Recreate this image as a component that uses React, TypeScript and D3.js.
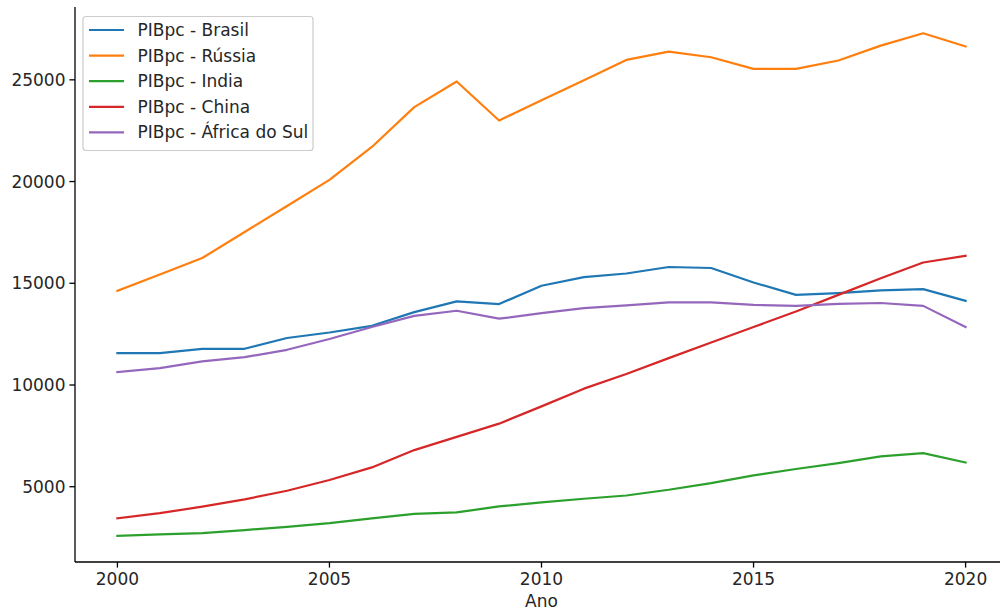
import React from "react";
import * as d3 from "d3";

const years = [2000, 2001, 2002, 2003, 2004, 2005, 2006, 2007, 2008, 2009, 2010, 2011, 2012, 2013, 2014, 2015, 2016, 2017, 2018, 2019, 2020];
const brasil = [11570, 11570, 11780, 11780, 12310, 12580, 12910, 13580, 14110, 13980, 14880, 15300, 15480, 15800, 15750, 15040, 14430, 14520, 14650, 14710, 14140];
const russia = [14630, 15430, 16240, 17520, 18800, 20080, 21700, 23660, 24920, 23000, 24000, 24980, 25980, 26390, 26110, 25540, 25540, 25950, 26680, 27290, 26640];
const india = [2590, 2660, 2720, 2870, 3030, 3210, 3440, 3670, 3740, 4030, 4230, 4410, 4570, 4850, 5180, 5560, 5870, 6160, 6490, 6650, 6190];
const china = [3450, 3700, 4020, 4380, 4800, 5330, 5950, 6800, 7450, 8100, 8950, 9820, 10540, 11320, 12090, 12850, 13610, 14430, 15250, 16020, 16350];
const africa = [10640, 10830, 11160, 11370, 11730, 12260, 12850, 13400, 13650, 13260, 13530, 13780, 13910, 14060, 14060, 13940, 13890, 13990, 14030, 13890, 12850];

const seriesNames = ["PIBpc - Brasil", "PIBpc - Rússia", "PIBpc - India", "PIBpc - China", "PIBpc - África do Sul"];
const seriesValues = [brasil, russia, india, china, africa];
const colors = ["#1f77b4", "#ff7f0e", "#2ca02c", "#d62728", "#9467bd"];
const yTicks = [5000, 10000, 15000, 20000, 25000];
const xTicks = [2000, 2005, 2010, 2015, 2020];
const xLabel = "Ano";

const W = 1000;
const H = 611;
const FONT = "DejaVu Sans, sans-serif";
const FS = 17;

export default function App() {
  const left = 75;
  const bottom = 562;
  const top = 7;
  const x = d3.scaleLinear().domain([1999, 2021]).range([left, 1008]);
  const y = d3.scaleLinear().domain([1300, 28580]).range([bottom, top]);
  const line = d3
    .line<number>()
    .x((_, i) => x(years[i]))
    .y((v) => y(v));

  const legendX = 83;
  const legendY = 16.5;
  const rowH = 25.6;

  return (
    <svg
      width={W}
      height={H}
      style={{ position: "absolute", left: 0, top: 0, background: "#fff" }}
      fontFamily={FONT}
    >
      <rect x={0} y={0} width={W} height={H} fill="#fff" />
      {seriesValues.map((vals, k) => (
        <path
          key={k}
          d={line(vals) || ""}
          fill="none"
          stroke={colors[k]}
          strokeWidth={2.2}
          strokeLinejoin="round"
          strokeLinecap="square"
        />
      ))}
      {/* spines */}
      <line x1={left} x2={left} y1={top} y2={bottom} stroke="#000" strokeWidth={1.3} />
      <line x1={left} x2={1008} y1={bottom} y2={bottom} stroke="#000" strokeWidth={1.3} />
      {/* y ticks */}
      {yTicks.map((t) => (
        <g key={t}>
          <line x1={left - 5.6} x2={left} y1={y(t)} y2={y(t)} stroke="#000" strokeWidth={1.3} />
          <text x={left - 9.5} y={y(t)} textAnchor="end" dominantBaseline="central" fontSize={FS} fill="#262626">
            {t}
          </text>
        </g>
      ))}
      {/* x ticks */}
      {xTicks.map((t) => (
        <g key={t}>
          <line x1={x(t)} x2={x(t)} y1={bottom} y2={bottom + 5.6} stroke="#000" strokeWidth={1.3} />
          <text x={x(t)} y={bottom + 10.5} textAnchor="middle" dominantBaseline="hanging" fontSize={FS} fill="#262626">
            {t}
          </text>
        </g>
      ))}
      <text x={(left + 1008) / 2} y={601} textAnchor="middle" dominantBaseline="central" fontSize={FS} fill="#262626">
        {xLabel}
      </text>
      {/* legend */}
      <rect
        x={legendX}
        y={legendY}
        width={230}
        height={134}
        rx={3}
        fill="#fff"
        fillOpacity={0.8}
        stroke="#cccccc"
        strokeWidth={1.2}
      />
      {seriesNames.map((name, k) => {
        const cy = 30 + k * rowH;
        return (
          <g key={name}>
            <line x1={89} x2={124} y1={cy} y2={cy} stroke={colors[k]} strokeWidth={2.2} />
            <text x={137.5} y={cy} dominantBaseline="central" fontSize={FS} fill="#262626">
              {name}
            </text>
          </g>
        );
      })}
    </svg>
  );
}
